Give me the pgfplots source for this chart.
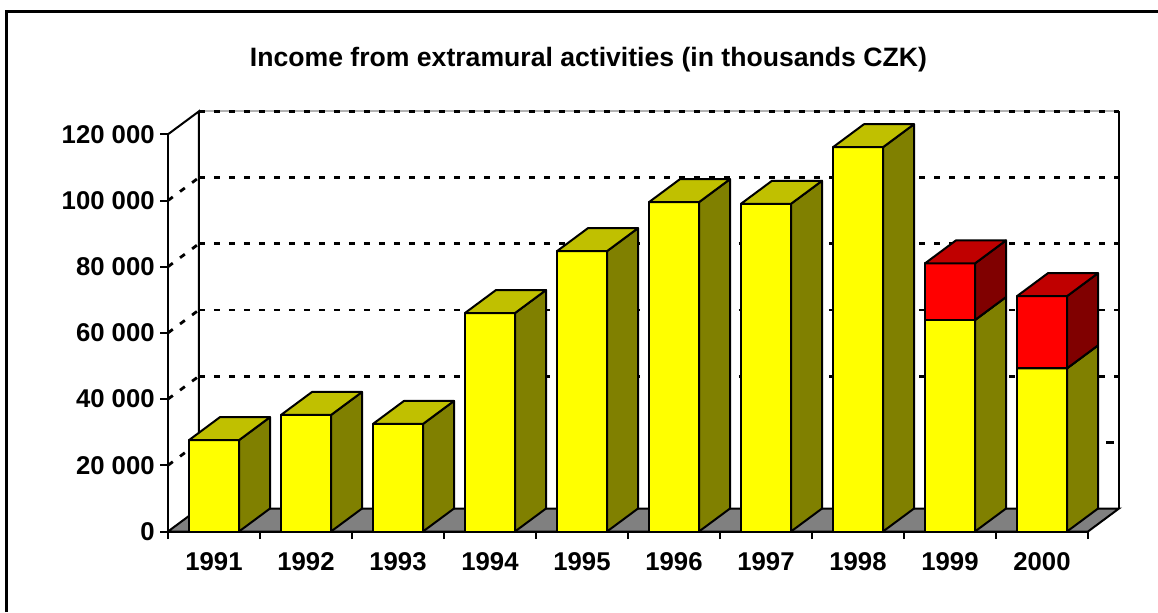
\documentclass[border=0pt]{standalone}
\usepackage{pgfplots}
\pgfplotsset{compat=1.18}
\usepackage{pgfplotstable}
\usepackage{fontspec}
\setmainfont{Liberation Sans}

\definecolor{yfront}{RGB}{255,255,0}
\definecolor{ytop}{RGB}{192,192,0}
\definecolor{yside}{RGB}{128,128,0}
\definecolor{rfront}{RGB}{255,0,0}
\definecolor{rtop}{RGB}{192,0,0}
\definecolor{rside}{RGB}{128,0,0}
\definecolor{floorgray}{RGB}{128,128,128}

\pgfplotstableread{
x year yellow red
0 1991 27600 0
1 1992 35200 0
2 1993 32500 0
3 1994 66000 0
4 1995 84700 0
5 1996 99500 0
6 1997 99000 0
7 1998 116100 0
8 1999 63900 17100
9 2000 49300 21800
}\income

% one 3-D block: #1 x centre, #2 bottom value, #3 top value, #4 front, #5 side, #6 top colour
\newcommand\tbBlock[6]{%
  \pgfmathsetmacro\tbXl{#1-0.272}%
  \pgfmathsetmacro\tbXr{#1+0.272}%
  \pgfmathsetmacro\tbXlb{#1-0.272+0.337}%
  \pgfmathsetmacro\tbXrb{#1+0.272+0.337}%
  \edef\tbVb{\the\numexpr#2\relax}%
  \edef\tbVt{\the\numexpr#3\relax}%
  \edef\tbVbb{\the\numexpr#2+6949\relax}%
  \edef\tbVtb{\the\numexpr#3+6949\relax}%
  \addplot[draw=black, line width=1pt, line join=round, fill=#4] coordinates {(\tbXl,\tbVb) (\tbXr,\tbVb) (\tbXr,\tbVt) (\tbXl,\tbVt)} -- cycle;
  \addplot[draw=black, line width=1pt, line join=round, fill=#5] coordinates {(\tbXr,\tbVb) (\tbXrb,\tbVbb) (\tbXrb,\tbVtb) (\tbXr,\tbVt)} -- cycle;
  \addplot[draw=black, line width=1pt, line join=round, fill=#6] coordinates {(\tbXl,\tbVt) (\tbXr,\tbVt) (\tbXrb,\tbVtb) (\tbXlb,\tbVtb)} -- cycle;
}

\begin{document}
\begin{tikzpicture}
\begin{axis}[
  scale only axis,
  width=460pt, height=198.6pt,
  xmin=-0.5, xmax=9.5, ymin=0, ymax=120000,
  clip=false,
  axis x line=bottom, axis y line=left,
  axis line style={-, line width=1pt, black},
  xtick={-0.5,0.5,...,9.5},
  x tick label as interval,
  xticklabels={1991,1992,1993,1994,1995,1996,1997,1998,1999,2000},
  ytick={0,20000,40000,60000,80000,100000,120000},
  yticklabels={0,20 000,40 000,60 000,80 000,100 000,120 000},
  scaled y ticks=false,
  tick align=outside,
  major tick length=3.75pt,
  tick style={line width=1pt, black},
  ticklabel style={font=\bfseries\fontsize{12.85}{15}\selectfont},
  xticklabel style={yshift=-3pt},
  yticklabel style={xshift=0.6pt},
]
% bounding box corners
\coordinate (bbsw) at (axis cs:-2.326,-24320);
\coordinate (bbne) at (axis cs:10.261,160574);

% chart area border (top and left edges visible)
\addplot[black, line width=1.5pt] coordinates {(-2.25,-24320) (-2.25,157251) (10.3,157251)};

% title
\node[anchor=base, font=\bfseries\fontsize{13.3}{16}\selectfont] at (axis cs:4.07,140634)
  {Income from extramural activities (in thousands CZK)};

% back wall gridlines
\pgfplotsinvokeforeach{40000,60000,80000,100000}{
  \addplot[black, line width=1.4pt, dash pattern=on 3pt off 4.5pt] coordinates {(-0.163,#1+6949) (9.837,#1+6949)};
}
\addplot[black, line width=1.4pt] coordinates {(9.70,26949) (9.78,26949)};
\pgfplotsinvokeforeach{20000,40000,60000,80000,100000}{
  \addplot[black, line width=1.4pt, dash pattern=on 3pt off 4.5pt] coordinates {(-0.5,#1) (-0.163,#1+6949)};
}
\addplot[gray!60, line width=1pt] coordinates {(-0.163,126949) (9.837,126949)};
\addplot[black, line width=1.4pt, dash pattern=on 3pt off 4.5pt] coordinates {(-0.163,126949) (9.837,126949)};
% wall edges
\addplot[black, line width=1pt] coordinates {(-0.5,120000) (-0.163,126949) (-0.163,6949)};
\addplot[black, line width=1pt] coordinates {(9.837,6949) (9.837,126949)};
% floor
\addplot[draw=black, line width=1pt, fill=floorgray] coordinates {(-0.5,0) (9.5,0) (9.837,6949) (-0.163,6949)} -- cycle;

% bars
\pgfplotsinvokeforeach{0,...,9}{
  \pgfplotstablegetelem{#1}{yellow}\of\income
  \edef\tbY{\pgfplotsretval}
  \pgfplotstablegetelem{#1}{red}\of\income
  \edef\tbR{\pgfplotsretval}
  \tbBlock{#1}{0}{\tbY}{yfront}{yside}{ytop}
  \ifnum\tbR>0 \tbBlock{#1}{\tbY}{\tbY+\tbR}{rfront}{rside}{rtop}\fi
}
\end{axis}
\pgfresetboundingbox
\useasboundingbox (bbsw) rectangle (bbne);
\end{tikzpicture}
\end{document}
